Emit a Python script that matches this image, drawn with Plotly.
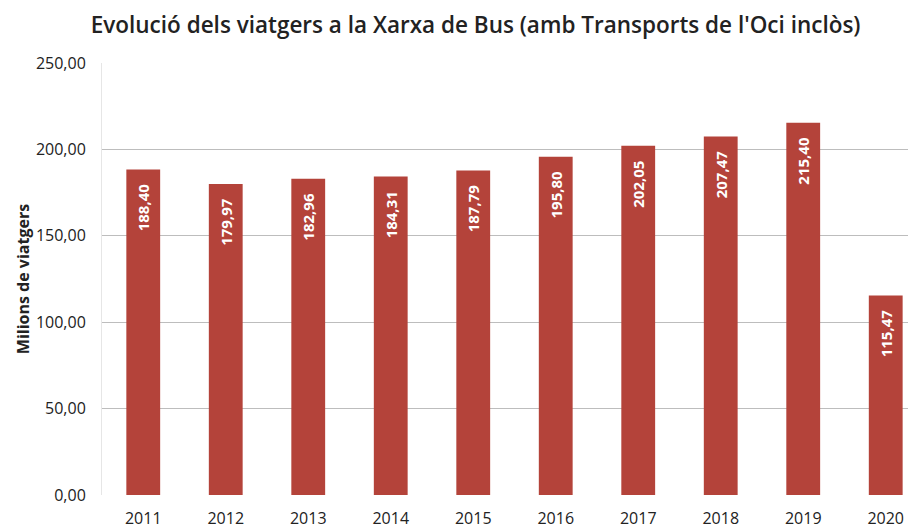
import plotly.graph_objects as go

years = ["2011", "2012", "2013", "2014", "2015", "2016", "2017", "2018", "2019", "2020"]
viatgers = [188.40, 179.97, 182.96, 184.31, 187.79, 195.80, 202.05, 207.47, 215.40, 115.47]
y_ticks = [0, 50, 100, 150, 200, 250]

# value labels with a little padding at the top end of the bar
labels = [f"{v:.2f}".replace(".", ",") + "\u00a0\u00a0\u00a0" for v in viatgers]

fig = go.Figure()
fig.add_trace(go.Bar(
    x=list(range(len(years))),
    y=viatgers,
    width=0.41,
    marker=dict(color="#b4433a", line=dict(width=0)),
    text=labels,
    textposition="inside",
    insidetextanchor="end",
    textangle=-90,
    constraintext="none",
    textfont=dict(color="white", size=15, family="Open Sans", weight="bold"),
))

fig.update_layout(
    width=908, height=521,
    margin=dict(l=94, r=0, t=55, b=32),
    paper_bgcolor="white", plot_bgcolor="white",
    separators=", ",
    showlegend=False,
    title=dict(
        text="Evolució dels viatgers a la Xarxa de Bus (amb Transports de l'Oci inclòs)",
        x=0.515, xanchor="center", y=0.968, yanchor="middle",
        font=dict(family="Open Sans", size=22.5, color="#222222", weight=600),
    ),
    xaxis=dict(
        range=[-0.5, 9.367],
        tickmode="array",
        tickvals=list(range(len(years))),
        ticktext=years,
        showgrid=False, zeroline=False, showline=False,
        ticks="",
        ticklabelstandoff=12,
        tickfont=dict(family="Open Sans", size=16, color="#222222"),
    ),
    yaxis=dict(
        range=[0, 250],
        tickmode="array",
        tickvals=y_ticks,
        tickformat=".2f",
        showgrid=True, gridcolor="#bdbdbd", gridwidth=1,
        zeroline=False, showline=True, linecolor="#e6e6e6", linewidth=1,
        ticks="",
        ticklabelstandoff=12,
        tickfont=dict(family="Open Sans", size=16, color="#222222"),
        title=dict(text="<b>Milions de viatgers</b>", standoff=2,
                   font=dict(family="Open Sans", size=16, color="#222222")),
    ),
)

fig.write_html("out.html")
